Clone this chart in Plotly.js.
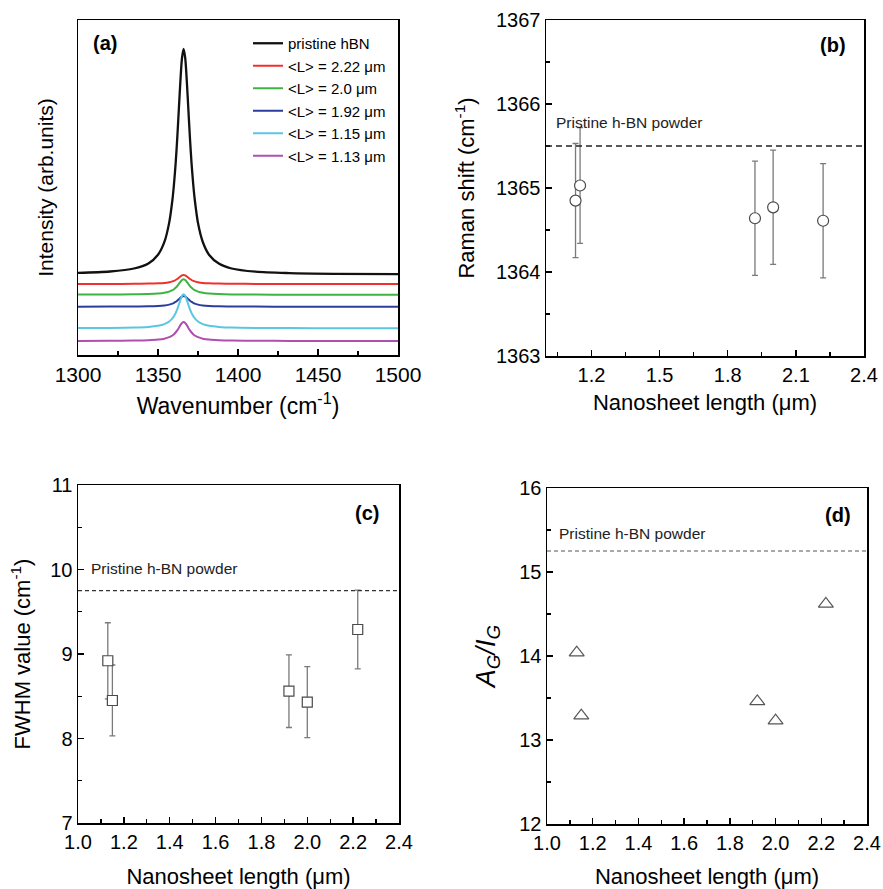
<!DOCTYPE html>
<html>
<head>
<meta charset="utf-8">
<script src="https://cdn.plot.ly/plotly-3.0.1.min.js"></script>
<style>html,body{margin:0;padding:0;background:#fff;}#chart{width:883px;height:889px;}</style>
</head>
<body>
<div id="chart"></div>
<script>
// ---------- Panel (a): Raman spectra (offset, arbitrary units) ----------
const wavenumber = [1300,1320,1335,1344,1350,1354,1357,1359,1360,1361,1362,1363,1364,1365,1366,1367,1368,1369,1370,1371,1372,1373,1375,1378,1382,1388,1396,1411,1432,1460,1500];
const specPristine = [82.2,83.5,86.5,91.6,100.3,113.1,132.4,155,171,191,216,245,274,297,306,297,274,245,216,191,171,155,132,113,100,91.4,86.5,83.3,81.9,81.2,80.8];
const specL222 = [71.0,71.0,71.2,71.4,71.7,72.1,72.8,73.6,74.2,75.0,76.0,77.2,78.5,79.6,80.0,79.6,78.5,77.2,76.0,75.0,74.2,73.6,72.8,72.1,71.7,71.4,71.2,71.1,71.0,71.0,71.0];
const specL200 = [60.4,60.5,60.7,60.9,61.4,62.2,63.4,64.8,65.8,67.2,68.9,71.0,73.2,75.0,75.7,75.0,73.2,71.0,68.9,67.2,65.8,64.8,63.4,62.2,61.4,60.9,60.6,60.4,60.3,60.3,60.3];
const specL192 = [48.3,48.4,48.5,48.7,49.1,49.6,50.4,51.4,52.2,53.1,54.3,55.7,57.2,58.5,59.0,58.5,57.2,55.7,54.3,53.1,52.2,51.4,50.4,49.6,49.1,48.7,48.5,48.4,48.3,48.3,48.3];
const specL115 = [26.9,27.0,27.4,28.1,29.2,30.9,33.5,36.6,38.9,41.9,45.7,50.2,55.1,59.1,60.7,59.1,55.1,50.2,45.7,41.9,38.9,36.6,33.5,30.9,29.2,28.1,27.4,27.0,26.9,26.8,26.7];
const specL113 = [14.1,14.2,14.4,14.8,15.4,16.3,17.8,19.5,20.8,22.5,24.6,27.1,29.9,32.1,33.0,32.1,29.9,27.1,24.6,22.5,20.8,19.5,17.8,16.3,15.4,14.8,14.4,14.2,14.1,14.0,14.0];
const seriesNames = ["pristine hBN","&lt;L&gt; = 2.22 μm","&lt;L&gt; = 2.0 μm","&lt;L&gt; = 1.92 μm","&lt;L&gt; = 1.15 μm","&lt;L&gt; = 1.13 μm"];
const seriesColors = ["#111111","#f0302e","#3fb43f","#2b3d9e","#5cc6e2","#b04fb0"];

// ---------- Panels (b)-(d): vs nanosheet length ----------
const nanosheetLength = [1.13, 1.15, 1.92, 2.0, 2.22];
const ramanShift = [1364.85, 1365.03, 1364.64, 1364.77, 1364.61];
const ramanShiftErr = [0.68, 0.69, 0.68, 0.68, 0.68];
const pristineShift = 1365.5;
const fwhm = [8.92, 8.45, 8.56, 8.43, 9.29];
const fwhmErr = [0.45, 0.42, 0.43, 0.42, 0.465];
const pristineFwhm = 9.75;
const agig = [14.04, 13.29, 13.46, 13.23, 14.62];
const pristineAgig = 15.25;

const FONT = "Liberation Sans, Arial, Helvetica, sans-serif";
const spectra = [specPristine, specL222, specL200, specL192, specL115, specL113];

const traces = spectra.map((s, i) => ({
  type: 'scatter', mode: 'lines', x: wavenumber, y: s, name: seriesNames[i],
  line: {color: seriesColors[i], width: i === 0 ? 2.3 : 2, shape: 'spline', smoothing: 0.8},
  xaxis: 'x', yaxis: 'y', showlegend: true
}));

traces.push({
  type: 'scatter', mode: 'markers', x: nanosheetLength, y: ramanShift, xaxis: 'x2', yaxis: 'y2', showlegend: false,
  error_y: {type: 'data', array: ramanShiftErr, visible: true, color: '#7a7a7a', thickness: 1.3, width: 3},
  marker: {symbol: 'circle', size: 11, color: '#ffffff', line: {color: '#4a4a4a', width: 1.2}}
});
traces.push({
  type: 'scatter', mode: 'markers', x: nanosheetLength, y: fwhm, xaxis: 'x3', yaxis: 'y3', showlegend: false,
  error_y: {type: 'data', array: fwhmErr, visible: true, color: '#7a7a7a', thickness: 1.3, width: 3},
  marker: {symbol: 'square', size: 10, color: '#ffffff', line: {color: '#4a4a4a', width: 1.2}}
});
traces.push({
  type: 'scatter', mode: 'markers', x: nanosheetLength, y: agig, xaxis: 'x4', yaxis: 'y4', showlegend: false,
  marker: {symbol: 'triangle-up-open', size: 13, color: '#555555', line: {color: '#555555', width: 1.2}}
});

const baseAxis = {
  showline: true, linecolor: '#000', linewidth: 1.5, mirror: true,
  ticks: 'inside', ticklen: 6, tickwidth: 1.3, tickcolor: '#000',
  showgrid: false, zeroline: false,
  tickfont: {family: FONT, size: 20, color: '#000'}
};
function ax(extra) { return Object.assign({}, baseAxis, extra); }

const W = 883, H = 889;
const px = v => v / W, py = v => 1 - v / H;
const titleFont = s => ({family: FONT, size: s, color: '#000'});

const layout = {
  width: W, height: H,
  margin: {l: 0, r: 0, t: 0, b: 0},
  paper_bgcolor: '#fff', plot_bgcolor: '#fff',
  font: {family: FONT, color: '#000'},
  showlegend: true,
  legend: {x: px(248), xanchor: 'left', y: py(27), yanchor: 'top', bgcolor: 'rgba(0,0,0,0)',
    font: {family: FONT, size: 15, color: '#000'}, borderwidth: 0, itemwidth: 30},
  xaxis: ax({domain: [px(78), px(398)], anchor: 'y', range: [1300, 1500], dtick: 50, tick0: 1300,
    minor: {ticks: 'inside', dtick: 25, ticklen: 4, tickcolor: '#000'},
    tickfont: {family: FONT, size: 21, color: '#000'},
    title: {text: 'Wavenumber (cm<sup>-1</sup>)', font: titleFont(23), standoff: 13}}),
  yaxis: ax({domain: [py(355), py(20)], anchor: 'x', range: [0, 335], ticks: '', showticklabels: false,
    title: {text: 'Intensity (arb.units)', font: titleFont(21), standoff: 17}}),
  xaxis2: ax({domain: [px(546), px(864)], anchor: 'y2', range: [1.0, 2.4], tick0: 0, dtick: 0.3, tickformat: '.1f',
    minor: {ticks: 'inside', dtick: 0.15, ticklen: 4, tickcolor: '#000'},
    title: {text: 'Nanosheet length (μm)', font: titleFont(22), standoff: 10}}),
  yaxis2: ax({domain: [py(356), py(20)], anchor: 'x2', range: [1363, 1367], dtick: 1,
    minor: {ticks: 'inside', dtick: 0.5, ticklen: 4, tickcolor: '#000'},
    title: {text: 'Raman shift (cm<sup>-1</sup>)', font: titleFont(22), standoff: 15}}),
  xaxis3: ax({domain: [px(78), px(399)], anchor: 'y3', range: [1.0, 2.4], tick0: 1.0, dtick: 0.2, tickformat: '.1f',
    minor: {ticks: 'inside', dtick: 0.1, ticklen: 4, tickcolor: '#000'},
    title: {text: 'Nanosheet length (μm)', font: titleFont(22), standoff: 18}}),
  yaxis3: ax({domain: [py(823), py(485)], anchor: 'x3', range: [7, 11], dtick: 1,
    minor: {ticks: 'inside', dtick: 0.5, ticklen: 4, tickcolor: '#000'},
    title: {text: 'FWHM value (cm<sup>-1</sup>)', font: titleFont(22), standoff: 13}}),
  xaxis4: ax({domain: [px(547), px(867)], anchor: 'y4', range: [1.0, 2.4], tick0: 1.0, dtick: 0.2, tickformat: '.1f',
    minor: {ticks: 'inside', dtick: 0.1, ticklen: 4, tickcolor: '#000'},
    title: {text: 'Nanosheet length (μm)', font: titleFont(22), standoff: 17}}),
  yaxis4: ax({domain: [py(824), py(488)], anchor: 'x4', range: [12, 16], dtick: 1,
    minor: {ticks: 'inside', dtick: 0.5, ticklen: 4, tickcolor: '#000'},
    title: {text: '<i>A<sub>G</sub>/I<sub>G</sub></i>', font: titleFont(27), standoff: 16}}),
  shapes: [
    {type: 'line', xref: 'x2 domain', x0: 0, x1: 1, yref: 'y2', y0: pristineShift, y1: pristineShift,
      line: {color: '#222', width: 1.3, dash: '6px,4px'}},
    {type: 'line', xref: 'x3 domain', x0: 0, x1: 1, yref: 'y3', y0: pristineFwhm, y1: pristineFwhm,
      line: {color: '#333', width: 1.1, dash: '4px,3px'}},
    {type: 'line', xref: 'x4 domain', x0: 0, x1: 1, yref: 'y4', y0: pristineAgig, y1: pristineAgig,
      line: {color: '#555', width: 1.1, dash: '4px,3px'}}
  ],
  annotations: [
    {text: '<b>(a)</b>', x: px(105), y: py(43)},
    {text: '<b>(b)</b>', x: px(833), y: py(45)},
    {text: '<b>(c)</b>', x: px(367), y: py(513)},
    {text: '<b>(d)</b>', x: px(838), y: py(515)}
  ].map(a => Object.assign(a, {xref: 'paper', yref: 'paper', xanchor: 'center', yanchor: 'middle', showarrow: false,
      font: {family: FONT, size: 20, color: '#000'}})).concat([
    {text: 'Pristine h-BN powder', x: px(554), y: py(123)},
    {text: 'Pristine h-BN powder', x: px(89), y: py(568)},
    {text: 'Pristine h-BN powder', x: px(557), y: py(533)}
  ].map(a => Object.assign(a, {xref: 'paper', yref: 'paper', xanchor: 'left', yanchor: 'middle', showarrow: false,
      font: {family: FONT, size: 15.5, color: '#222'}})))
};

Plotly.newPlot('chart', traces, layout, {displayModeBar: false, staticPlot: true});
</script>
</body>
</html>
